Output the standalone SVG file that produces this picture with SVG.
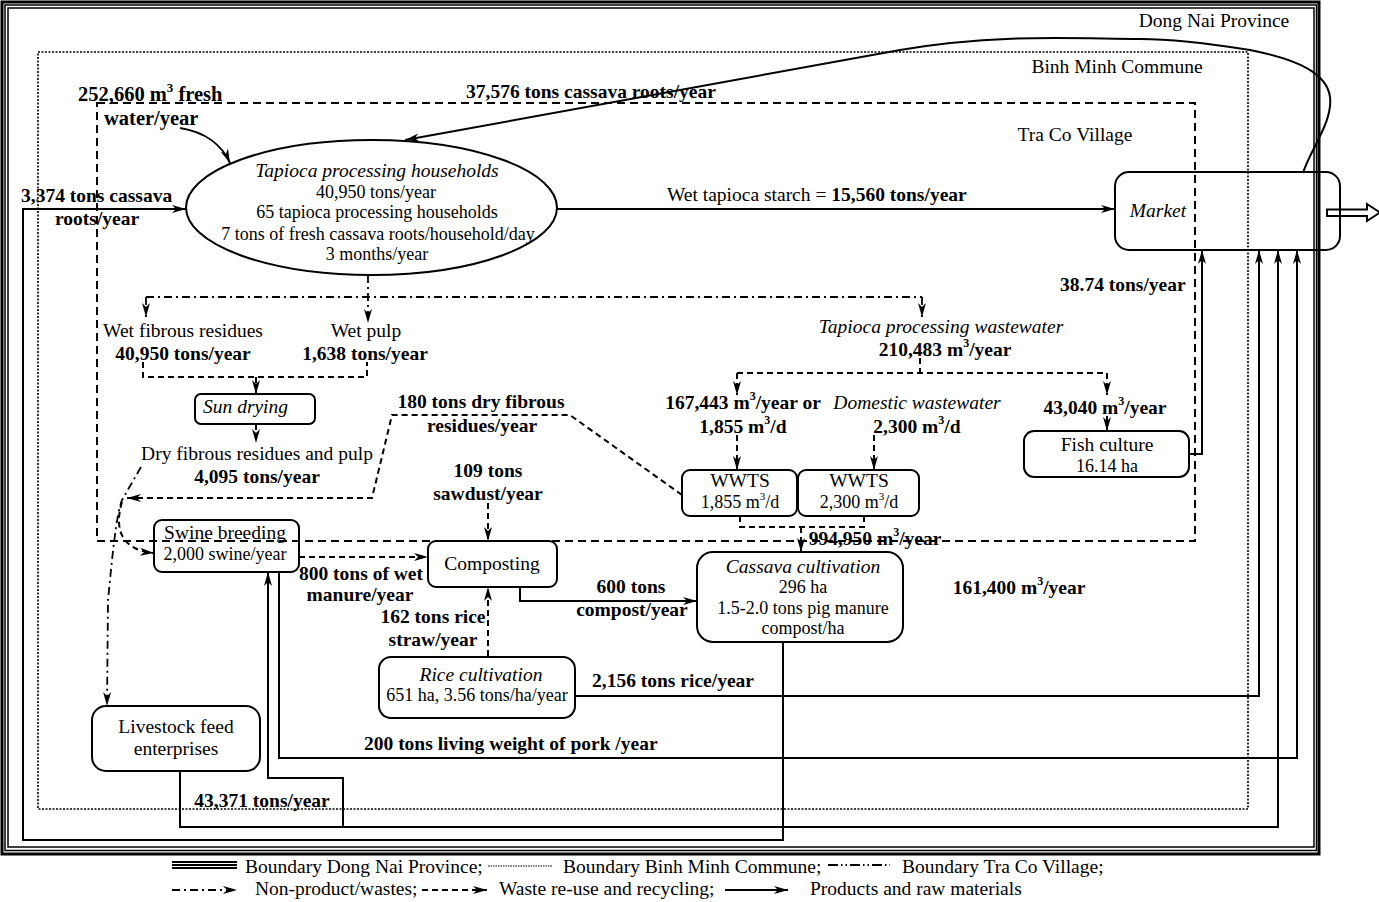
<svg xmlns="http://www.w3.org/2000/svg" width="1379" height="902" viewBox="0 0 1379 902">
<style>
  text { font-family: "Liberation Serif", "Times New Roman", serif; fill: #000; }
  .t { font-size: 19.5px; }
  .b { font-size: 19.5px; font-weight: bold; }
  .i { font-size: 19.5px; font-style: italic; }
  .s { font-size: 18px; }
  .m { text-anchor: middle; }
  .big { font-size: 20.5px; }
  .box { fill: none; stroke: #000; stroke-width: 2; }
  .solid { fill: none; stroke: #000; stroke-width: 2; }
  .dash { fill: none; stroke: #000; stroke-width: 2; stroke-dasharray: 6 4; }
  .dd { fill: none; stroke: #000; stroke-width: 1.8; stroke-dasharray: 8 4 2 4; }
  .village { fill: none; stroke: #000; stroke-width: 2; stroke-dasharray: 8 5; }
  .commune { fill: none; stroke: #000; stroke-width: 1.6; stroke-dasharray: 2 1.5; }
  .province { fill: none; stroke: #000; }
</style>
<defs>
  <marker id="ah" viewBox="0 0 14 10" refX="14" refY="5" markerWidth="15" markerHeight="10" markerUnits="userSpaceOnUse" orient="auto">
    <path d="M0,1 L14,5 L0,9 L4,5 z" fill="#000"/>
  </marker>
</defs>
<rect width="1379" height="902" fill="#fff"/>

<!-- administrative boundaries -->
<g id="boundaries">
  <rect class="province" x="2" y="2" width="1317" height="852" stroke-width="3"/>
  <rect class="province" x="5" y="5" width="1311.5" height="845.5" stroke-width="1.5"/>
  <rect class="province" x="8" y="8" width="1306" height="839" stroke-width="1.5"/>
  <rect class="commune" x="38" y="52" width="1210" height="757"/>
  <rect class="village" x="97" y="103" width="1098" height="438"/>
  <text class="t m" x="1214" y="27">Dong Nai Province</text>
  <text class="t m" x="1117" y="73">Binh Minh Commune</text>
  <text class="t m" x="1075" y="141">Tra Co Village</text>
</g>

<!-- flows -->
<g id="connectors">
  <path class="solid" d="M180,128 C205,132 222,145 230,163" marker-end="url(#ah)"/>
  <path class="solid" d="M1303,173 C1310,150 1333,122 1330,97 C1327,74 1300,60 1250,50 C1200,42 1165,39 1140,39 C1080,39 1000,33 900,50 L405,140" marker-end="url(#ah)"/>
  <path class="solid" d="M783,642 L783,840 L23,840 L23,209 L186,209" marker-end="url(#ah)"/>
  <path class="solid" d="M557,209 L1115,209" marker-end="url(#ah)"/>

  <path class="dd" d="M368,275 L368,323" marker-end="url(#ah)"/>
  <path class="dd" d="M146,297 L922,297"/>
  <path class="dd" d="M146,297 L146,317" marker-end="url(#ah)"/>
  <path class="dd" d="M922,297 L922,317" marker-end="url(#ah)"/>

  <path class="dash" d="M143,362 L143,377 L367,377 L367,362"/>
  <path class="dash" d="M256,377 L256,394" marker-end="url(#ah)"/>
  <path class="dash" d="M256,424 L256,443" marker-end="url(#ah)"/>

  <path class="dd" d="M141,467 L122,500 C116,515 112,560 108,600 L107,706" marker-end="url(#ah)"/>
  <path class="dash" d="M682,495 L570,415 L392,415 L372,498 L127,498" marker-end="url(#ah)"/>
  <path class="dash" d="M122,502 C115,525 118,550 154,553" marker-end="url(#ah)"/>

  <path class="dash" d="M299,557 L428,557" marker-end="url(#ah)"/>
  <path class="dash" d="M488,503 L488,541" marker-end="url(#ah)"/>
  <path class="dash" d="M488,656 L488,587" marker-end="url(#ah)"/>
  <path class="solid" d="M520,587 L520,601 L697,601" marker-end="url(#ah)"/>

  <path class="dash" d="M920,358 L920,373"/>
  <path class="dash" d="M737,373 L1107,373"/>
  <path class="dash" d="M737,373 L737,395" marker-end="url(#ah)"/>
  <path class="dash" d="M1107,373 L1107,395" marker-end="url(#ah)"/>
  <path class="dash" d="M737,435 L737,470" marker-end="url(#ah)"/>
  <path class="dash" d="M874,435 L874,470" marker-end="url(#ah)"/>
  <path class="dash" d="M1107,416 L1107,431" marker-end="url(#ah)"/>

  <path class="dash" d="M740,516 L740,527 L864,527 L864,516"/>
  <path class="dash" d="M801,527 L801,552" marker-end="url(#ah)"/>

  <path class="solid" d="M1189,454 L1202,454 L1202,250" marker-end="url(#ah)"/>
  <path class="solid" d="M575,696 L1259,696 L1259,250" marker-end="url(#ah)"/>
  <path class="solid" d="M279,572 L279,758 L1297,758 L1297,250" marker-end="url(#ah)"/>
  <path class="solid" d="M180,771 L180,827 L1278,827 L1278,250" marker-end="url(#ah)"/>
  <path class="solid" d="M343,827 L343,778 L268,778 L268,572" marker-end="url(#ah)"/>

  <path class="solid" d="M1327,209.5 L1367,209.5 L1367,204 L1380,212.5 L1367,221 L1367,216 L1327,216 z" fill="#fff"/>
</g>

<!-- flow labels -->
<g id="labels">
  <text class="b big" x="78" y="101">252,660 m<tspan font-size="13" dy="-9">3</tspan><tspan dy="9"> fresh</tspan></text>
  <text class="b big" x="104" y="125">water/year</text>
  <text class="b" x="466" y="98">37,576 tons cassava roots/year</text>
  <text class="b" x="21" y="202">3,374 tons cassava</text>
  <text class="b" x="55" y="225">roots/year</text>
  <text class="t" x="667" y="201">Wet tapioca starch = <tspan font-weight="bold">15,560 tons/year</tspan></text>
  <text class="b" x="1060" y="291">38.74 tons/year</text>
  <text class="t m" x="183" y="337">Wet fibrous residues</text>
  <text class="b m" x="183" y="360">40,950 tons/year</text>
  <text class="t m" x="366" y="337">Wet pulp</text>
  <text class="b m" x="365" y="360">1,638 tons/year</text>
  <text class="t m" x="257" y="460">Dry fibrous residues and pulp</text>
  <text class="b m" x="257" y="483">4,095 tons/year</text>
  <text class="b m" x="481" y="408">180 tons dry fibrous</text>
  <text class="b m" x="482" y="432">residues/year</text>
  <text class="b m" x="488" y="477">109 tons</text>
  <text class="b m" x="488" y="500">sawdust/year</text>
  <text class="i m" x="941" y="333">Tapioca processing wastewater</text>
  <text class="b m" x="945" y="356">210,483 m<tspan font-size="12" dy="-9">3</tspan><tspan dy="9">/year</tspan></text>
  <text class="b m" x="743" y="409">167,443 m<tspan font-size="12" dy="-9">3</tspan><tspan dy="9">/year or</tspan></text>
  <text class="b m" x="743" y="433">1,855 m<tspan font-size="12" dy="-9">3</tspan><tspan dy="9">/d</tspan></text>
  <text class="i m" x="917" y="409">Domestic wastewater</text>
  <text class="b m" x="917" y="433">2,300 m<tspan font-size="12" dy="-9">3</tspan><tspan dy="9">/d</tspan></text>
  <text class="b m" x="1105" y="414">43,040 m<tspan font-size="12" dy="-9">3</tspan><tspan dy="9">/year</tspan></text>
  <text class="b m" x="875" y="545">994,950 m<tspan font-size="12" dy="-9">3</tspan><tspan dy="9">/year</tspan></text>
  <text class="b m" x="1019" y="594">161,400 m<tspan font-size="12" dy="-9">3</tspan><tspan dy="9">/year</tspan></text>
  <text class="b m" x="361" y="580">800 tons of wet</text>
  <text class="b m" x="360" y="601">manure/year</text>
  <text class="b m" x="631" y="593">600 tons</text>
  <text class="b m" x="632" y="616">compost/year</text>
  <text class="b m" x="433" y="623">162 tons rice</text>
  <text class="b m" x="433" y="646">straw/year</text>
  <text class="b m" x="673" y="687">2,156 tons rice/year</text>
  <text class="b" x="364" y="750">200 tons living weight of pork /year</text>
  <text class="b m" x="262" y="807">43,371 tons/year</text>
</g>

<g id="tapioca-households">
  <ellipse class="box" cx="371.5" cy="207.5" rx="185.5" ry="67.5"/>
  <text class="i m" x="377" y="177">Tapioca processing households</text>
  <text class="s m" x="376" y="198">40,950 tons/year</text>
  <text class="s m" x="377" y="218">65 tapioca processing households</text>
  <text class="s m" x="378" y="240">7 tons of fresh cassava roots/household/day</text>
  <text class="s m" x="377" y="260">3 months/year</text>
</g>

<g id="market">
  <rect class="box" x="1115" y="172" width="225" height="78" rx="14"/>
  <text class="i m" x="1158" y="217">Market</text>
</g>

<g id="sun-drying">
  <rect class="box" x="195" y="394" width="120" height="30" rx="6"/>
  <text class="i" x="203" y="413">Sun drying</text>
</g>

<g id="fish-culture">
  <rect class="box" x="1024" y="431" width="165" height="46" rx="10"/>
  <text class="t m" x="1107" y="451">Fish culture</text>
  <text class="s m" x="1107" y="472">16.14 ha</text>
</g>

<g id="wwts-1">
  <rect class="box" x="682" y="470" width="115" height="46" rx="8"/>
  <text class="t m" x="740" y="487">WWTS</text>
  <text class="s m" x="740" y="508">1,855 m<tspan font-size="11" dy="-8">3</tspan><tspan dy="8">/d</tspan></text>
</g>

<g id="wwts-2">
  <rect class="box" x="798" y="470" width="121" height="46" rx="8"/>
  <text class="t m" x="859" y="487">WWTS</text>
  <text class="s m" x="859" y="508">2,300 m<tspan font-size="11" dy="-8">3</tspan><tspan dy="8">/d</tspan></text>
</g>

<g id="swine-breeding">
  <rect class="box" x="154" y="520" width="145" height="52" rx="8"/>
  <text class="t m" x="225" y="539">Swine breeding</text>
  <text class="s m" x="225" y="560">2,000 swine/year</text>
</g>

<g id="composting">
  <rect class="box" x="428" y="541" width="129" height="46" rx="8"/>
  <text class="t m" x="492" y="570">Composting</text>
</g>

<g id="cassava-cultivation">
  <rect class="box" x="697" y="552" width="206" height="90" rx="16"/>
  <text class="i m" x="803" y="573">Cassava cultivation</text>
  <text class="s m" x="803" y="593">296 ha</text>
  <text class="s m" x="803" y="614">1.5-2.0 tons pig manure</text>
  <text class="s m" x="803" y="634">compost/ha</text>
</g>

<g id="rice-cultivation">
  <rect class="box" x="379" y="657" width="196" height="61" rx="12"/>
  <text class="i m" x="481" y="681">Rice cultivation</text>
  <text class="s m" x="477" y="701">651 ha, 3.56 tons/ha/year</text>
</g>

<g id="livestock-feed">
  <rect class="box" x="92" y="706" width="168" height="65" rx="14"/>
  <text class="t m" x="176" y="733">Livestock feed</text>
  <text class="t m" x="176" y="755">enterprises</text>
</g>

<!-- key -->
<g id="legend">
  <line x1="172" y1="862" x2="237" y2="862" stroke="#000" stroke-width="1.8"/>
  <line x1="172" y1="865" x2="237" y2="865" stroke="#000" stroke-width="1.8"/>
  <line x1="172" y1="868" x2="237" y2="868" stroke="#000" stroke-width="1.8"/>
  <text class="t" x="245" y="873">Boundary Dong Nai Province;</text>
  <line x1="488" y1="866" x2="552" y2="866" stroke="#000" stroke-width="1.2" stroke-dasharray="1.5 1"/>
  <text class="t" x="563" y="873">Boundary Binh Minh Commune;</text>
  <line x1="828" y1="865" x2="890" y2="865" stroke="#000" stroke-width="2" stroke-dasharray="10 3 1.5 3 1.5 3"/>
  <text class="t" x="902" y="873">Boundary Tra Co Village;</text>
  <line class="dd" x1="172" y1="890" x2="237" y2="890" marker-end="url(#ah)"/>
  <text class="t" x="255" y="895">Non-product/wastes;</text>
  <line class="dash" x1="422" y1="890" x2="487" y2="890" marker-end="url(#ah)"/>
  <text class="t" x="499" y="895">Waste re-use and recycling;</text>
  <line class="solid" x1="725" y1="890" x2="788" y2="890" marker-end="url(#ah)"/>
  <text class="t" x="810" y="895">Products and raw materials</text>
</g>
</svg>
